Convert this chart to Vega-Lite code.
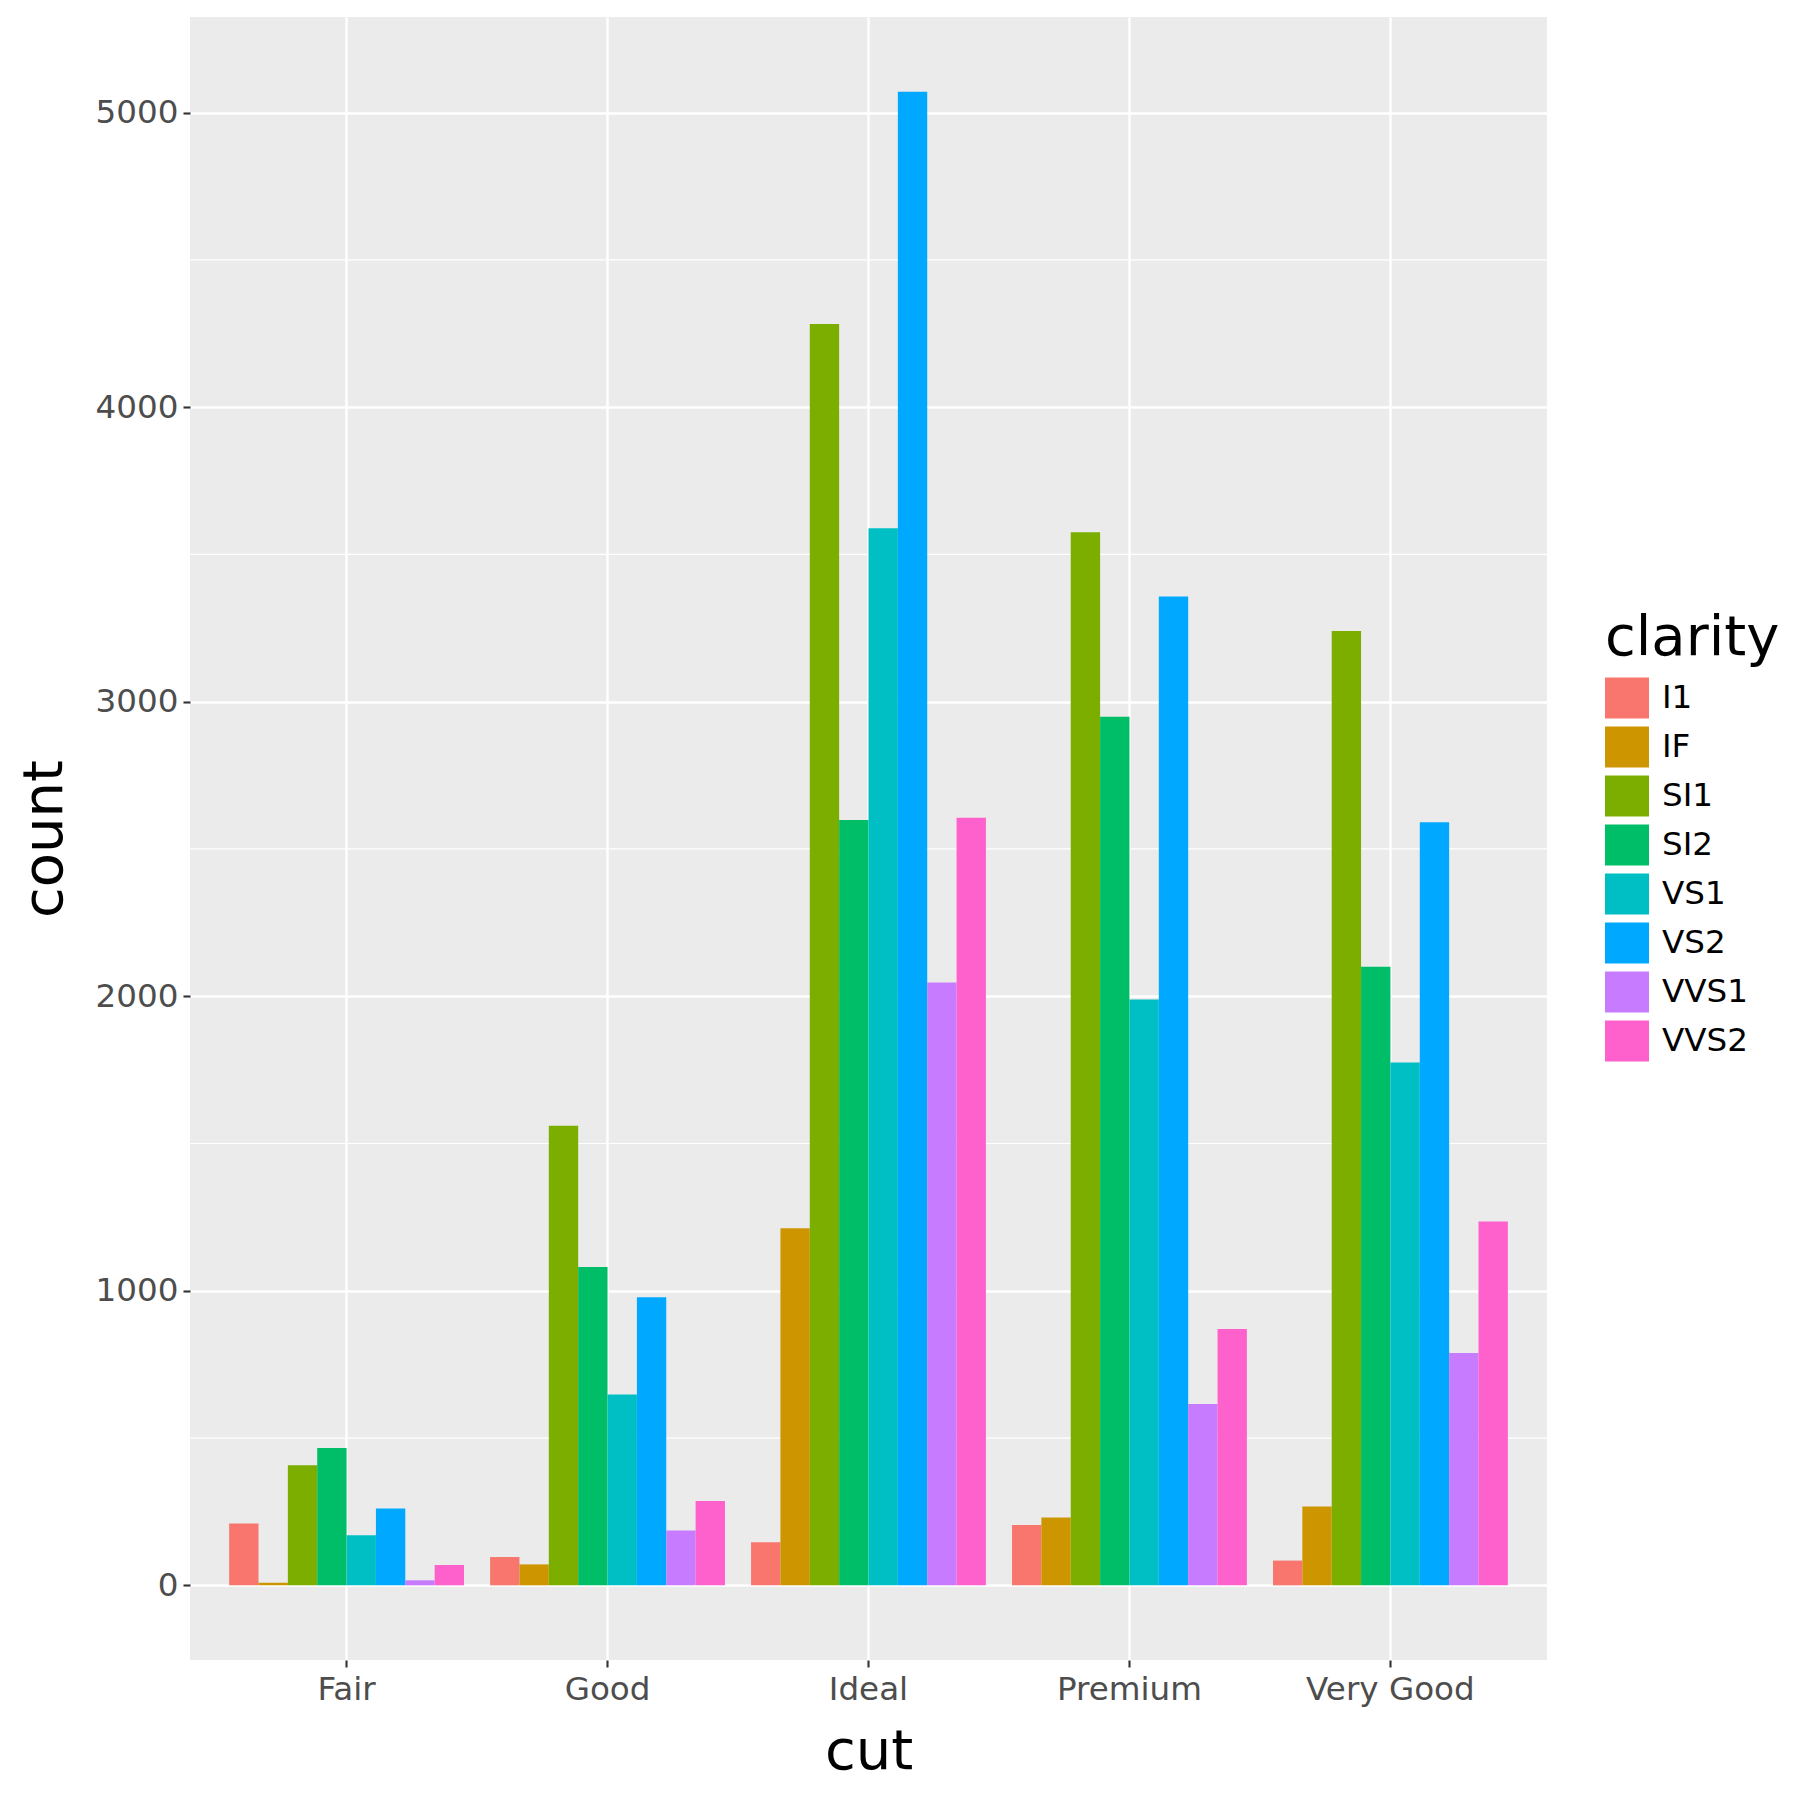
{
  "$schema": "https://vega.github.io/schema/vega-lite/v6.json",
  "width": 1357,
  "height": 1643,
  "autosize": {"type": "none"},
  "padding": {"left": 190, "top": 17, "right": 253, "bottom": 140},
  "background": "white",
  "config": {
    "view": {"fill": "#EBEBEB", "stroke": null},
    "font": "DejaVu Sans"
  },
  "datasets": {
    "counts": [
      {"cut": "Fair", "clarity": "I1", "count": 210},
      {"cut": "Fair", "clarity": "IF", "count": 9},
      {"cut": "Fair", "clarity": "SI1", "count": 408},
      {"cut": "Fair", "clarity": "SI2", "count": 466},
      {"cut": "Fair", "clarity": "VS1", "count": 170},
      {"cut": "Fair", "clarity": "VS2", "count": 261},
      {"cut": "Fair", "clarity": "VVS1", "count": 17},
      {"cut": "Fair", "clarity": "VVS2", "count": 69},
      {"cut": "Good", "clarity": "I1", "count": 96},
      {"cut": "Good", "clarity": "IF", "count": 71},
      {"cut": "Good", "clarity": "SI1", "count": 1560},
      {"cut": "Good", "clarity": "SI2", "count": 1081},
      {"cut": "Good", "clarity": "VS1", "count": 648},
      {"cut": "Good", "clarity": "VS2", "count": 978},
      {"cut": "Good", "clarity": "VVS1", "count": 186},
      {"cut": "Good", "clarity": "VVS2", "count": 286},
      {"cut": "Ideal", "clarity": "I1", "count": 146},
      {"cut": "Ideal", "clarity": "IF", "count": 1212},
      {"cut": "Ideal", "clarity": "SI1", "count": 4282},
      {"cut": "Ideal", "clarity": "SI2", "count": 2598},
      {"cut": "Ideal", "clarity": "VS1", "count": 3589},
      {"cut": "Ideal", "clarity": "VS2", "count": 5071},
      {"cut": "Ideal", "clarity": "VVS1", "count": 2047},
      {"cut": "Ideal", "clarity": "VVS2", "count": 2606},
      {"cut": "Premium", "clarity": "I1", "count": 205},
      {"cut": "Premium", "clarity": "IF", "count": 230},
      {"cut": "Premium", "clarity": "SI1", "count": 3575},
      {"cut": "Premium", "clarity": "SI2", "count": 2949},
      {"cut": "Premium", "clarity": "VS1", "count": 1989},
      {"cut": "Premium", "clarity": "VS2", "count": 3357},
      {"cut": "Premium", "clarity": "VVS1", "count": 616},
      {"cut": "Premium", "clarity": "VVS2", "count": 870},
      {"cut": "Very Good", "clarity": "I1", "count": 84},
      {"cut": "Very Good", "clarity": "IF", "count": 268},
      {"cut": "Very Good", "clarity": "SI1", "count": 3240},
      {"cut": "Very Good", "clarity": "SI2", "count": 2100},
      {"cut": "Very Good", "clarity": "VS1", "count": 1775},
      {"cut": "Very Good", "clarity": "VS2", "count": 2591},
      {"cut": "Very Good", "clarity": "VVS1", "count": 789},
      {"cut": "Very Good", "clarity": "VVS2", "count": 1235}
    ],
    "minor": [
      {"count": 500},
      {"count": 1500},
      {"count": 2500},
      {"count": 3500},
      {"count": 4500}
    ]
  },
  "layer": [
    {
      "data": {"name": "minor"},
      "mark": {"type": "rule", "color": "white", "strokeWidth": 1.2},
      "encoding": {
        "y": {"field": "count", "type": "quantitative"}
      }
    },
    {
      "data": {"name": "counts"},
      "mark": {"type": "bar"},
      "encoding": {
        "x": {
          "field": "cut",
          "type": "nominal",
          "sort": ["Fair", "Good", "Ideal", "Premium", "Very Good"],
          "scale": {"paddingInner": 0.1, "paddingOuter": 0.15},
          "axis": {
            "title": "cut",
            "titleFontSize": 56,
            "titleFontWeight": "normal",
            "titleColor": "black",
            "titlePadding": 19,
            "labelAngle": 0,
            "labelFontSize": 32.6,
            "labelColor": "#4D4D4D",
            "labelPadding": 6,
            "bandPosition": 0.5,
            "grid": true,
            "gridColor": "white",
            "gridWidth": 2.4,
            "domain": false,
            "tickColor": "#333333",
            "tickSize": 7,
            "tickWidth": 2.1
          }
        },
        "xOffset": {
          "field": "clarity",
          "type": "nominal",
          "sort": ["I1", "IF", "SI1", "SI2", "VS1", "VS2", "VVS1", "VVS2"],
          "scale": {"paddingInner": 0, "paddingOuter": 0}
        },
        "y": {
          "field": "count",
          "type": "quantitative",
          "scale": {"domain": [-253.55, 5324.55], "nice": false, "zero": false},
          "axis": {
            "title": "count",
            "titleFontSize": 56,
            "titleFontWeight": "normal",
            "titleColor": "black",
            "titleAngle": -90,
            "titleBaseline": "middle",
            "titleAlign": "center",
            "titleX": -146,
            "values": [0, 1000, 2000, 3000, 4000, 5000],
            "format": "d",
            "labelFontSize": 32.6,
            "labelColor": "#4D4D4D",
            "labelPadding": 5,
            "grid": true,
            "gridColor": "white",
            "gridWidth": 2.4,
            "domain": false,
            "tickColor": "#333333",
            "tickSize": 7,
            "tickWidth": 2.1
          }
        },
        "color": {
          "field": "clarity",
          "type": "nominal",
          "sort": ["I1", "IF", "SI1", "SI2", "VS1", "VS2", "VVS1", "VVS2"],
          "scale": {
            "domain": ["I1", "IF", "SI1", "SI2", "VS1", "VS2", "VVS1", "VVS2"],
            "range": ["#F8766D", "#CD9600", "#7CAE00", "#00BE67", "#00BFC4", "#00A9FF", "#C77CFF", "#FF61CC"]
          },
          "legend": {
            "title": "clarity",
            "orient": "none",
            "legendX": 1415,
            "legendY": 594,
            "padding": 0,
            "titleFontSize": 56,
            "titleFontWeight": "normal",
            "titleColor": "black",
            "titlePadding": 9,
            "labelFontSize": 32.6,
            "labelColor": "black",
            "labelOffset": 13,
            "labelLimit": 300,
            "rowPadding": 6,
            "symbolType": "M-1,-0.93H1V0.93H-1Z",
            "symbolSize": 1936,
            "symbolStrokeWidth": 0,
            "symbolOpacity": 1
          }
        }
      }
    }
  ]
}
